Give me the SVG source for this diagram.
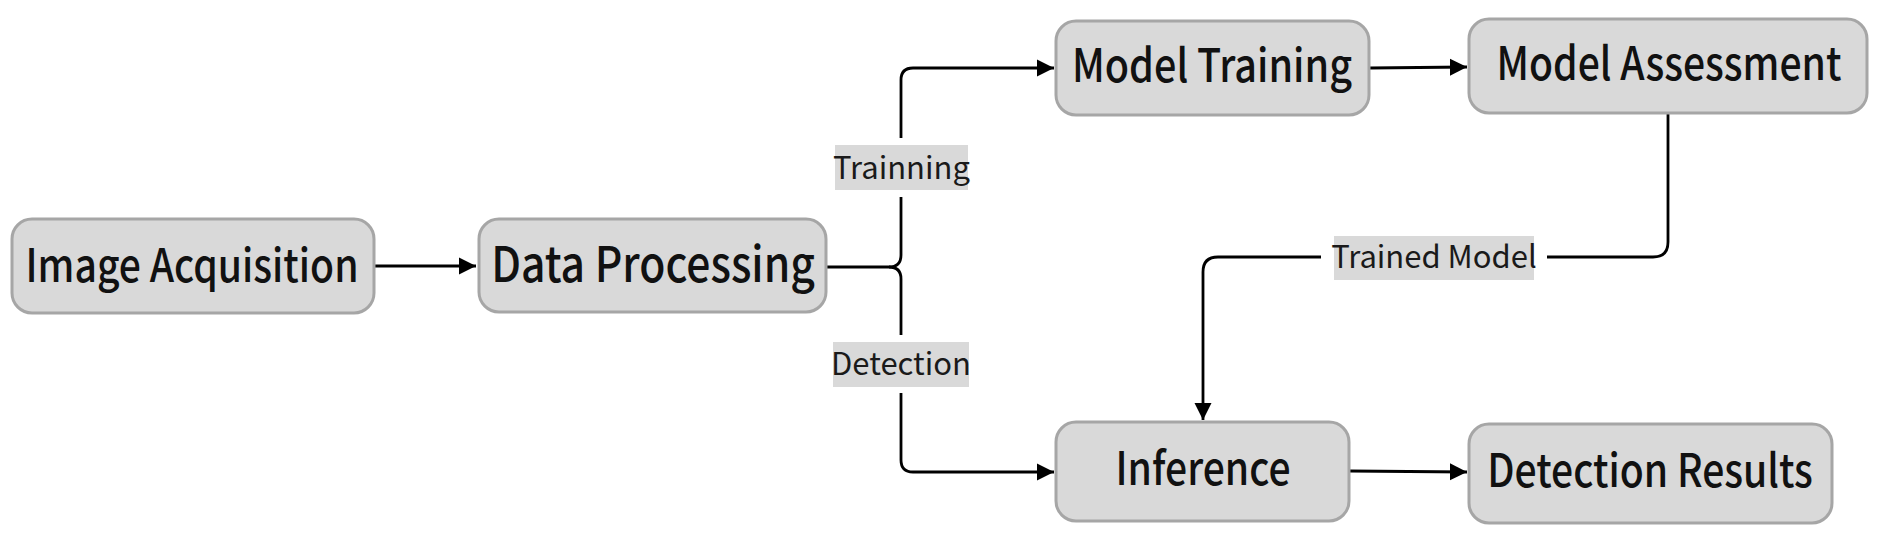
<svg xmlns="http://www.w3.org/2000/svg" width="1880" height="544" viewBox="0 0 1880 544">
<defs>
<marker id="arr" viewBox="0 0 10 10" refX="10" refY="5" markerWidth="6.2" markerHeight="6.8" orient="auto" markerUnits="strokeWidth">
<path d="M0,0 L10,5 L0,10 Z" fill="#000"/>
</marker>
<style>
.node rect{fill:#d9d9d9;stroke:#a6a6a6;stroke-width:3}
.node text{font-family:"Noto Sans CJK SC","Noto Sans",sans-serif;font-size:46px;font-weight:500;fill:#111;text-anchor:middle}
.edge{fill:none;stroke:#000;stroke-width:2.8}
.lbl rect.bg{fill:#d9d9d9}
.lbl rect.gap{fill:#fff}
.lbl text{font-family:"Noto Sans CJK SC","Noto Sans",sans-serif;font-size:31px;fill:#1a1a1a;text-anchor:middle}
</style>
</defs>
<rect width="1880" height="544" fill="#fff"/>
<g id="connectors">
<path class="edge" d="M375,266 L476,266" marker-end="url(#arr)"/>
<path class="edge" d="M827,267 L889,267 Q901,267 901,255 L901,80 Q901,68 913,68 L1054,68" marker-end="url(#arr)"/>
<path class="edge" d="M889,267 Q901,267 901,279 L901,460 Q901,472 913,472 L1054,472" marker-end="url(#arr)"/>
<path class="edge" d="M1370,68 L1467,67" marker-end="url(#arr)"/>
<path class="edge" d="M1350,471 L1467,472" marker-end="url(#arr)"/>
<path class="edge" d="M1668,113 L1668,242 Q1668,257 1653,257 L1218,257 Q1203,257 1203,272 L1203,420" marker-end="url(#arr)"/>
<g id="label-trainning" class="lbl">
<rect class="gap" x="828" y="138" width="147" height="59"/>
<rect class="bg" x="835" y="145" width="133" height="45"/>
<text x="901.5" y="179">Trainning</text>
</g>
<g id="label-detection" class="lbl">
<rect class="gap" x="826" y="335" width="150" height="58"/>
<rect class="bg" x="833" y="342" width="136" height="45"/>
<text x="901" y="375">Detection</text>
</g>
<g id="label-trained-model" class="lbl">
<rect class="gap" x="1321" y="229" width="226" height="58"/>
<rect class="bg" x="1334" y="236" width="200" height="44"/>
<text x="1434" y="268">Trained Model</text>
</g>
</g>
<g id="image-acquisition" class="node">
<rect x="12" y="219" width="362" height="94" rx="20"/>
<text transform="translate(192,282) scale(0.85,1)">Image Acquisition</text>
</g>
<g id="data-processing" class="node">
<rect x="479" y="219" width="347" height="93" rx="20"/>
<text transform="translate(653,282) scale(0.87,1)" style="font-size:49px">Data Processing</text>
</g>
<g id="model-training" class="node">
<rect x="1056" y="21" width="313" height="94" rx="20"/>
<text transform="translate(1212,82) scale(0.86,1)">Model Training</text>
</g>
<g id="model-assessment" class="node">
<rect x="1469" y="19" width="398" height="94" rx="20"/>
<text transform="translate(1669,80) scale(0.85,1)">Model Assessment</text>
</g>
<g id="inference" class="node">
<rect x="1056" y="422" width="293" height="99" rx="20"/>
<text transform="translate(1203,485) scale(0.85,1)">Inference</text>
</g>
<g id="detection-results" class="node">
<rect x="1469" y="424" width="363" height="99" rx="20"/>
<text transform="translate(1650,487) scale(0.85,1)">Detection Results</text>
</g>
</svg>
